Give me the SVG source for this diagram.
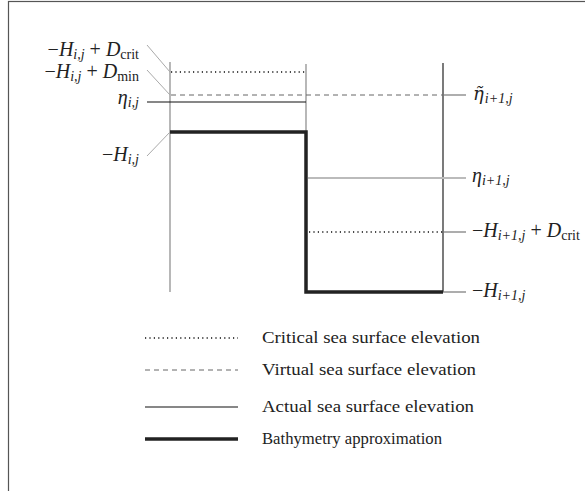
<svg xmlns="http://www.w3.org/2000/svg" width="585" height="491" viewBox="0 0 585 491">
<style>
text{font-family:"Liberation Serif","Times New Roman","DejaVu Serif",serif;font-size:17px;fill:#222}
.lbl{font-size:20px}
.m{font-style:italic}
.s{font-size:14px}
.lead{stroke:#aaa;stroke-width:1;fill:none}
.vg{stroke:#888;stroke-width:1.2;fill:none}
.dot{stroke:#111;stroke-width:1.5;stroke-dasharray:1.2 3.2;fill:none}
.dash{stroke:#666;stroke-width:1;stroke-dasharray:5 4;fill:none}
.sol{stroke:#111;stroke-width:1.2;fill:none}
.thick{stroke:#222;stroke-width:3.5;fill:none}
.lg{stroke:#bbb;stroke-width:1.8;fill:none}
.gr{stroke:#777;stroke-width:1.2;fill:none}
</style>
<rect x="8.5" y="1.5" width="600" height="520" fill="#fff" stroke="#555" stroke-width="1.2"/>
<g id="connectors">
<line class="vg" x1="170" y1="62" x2="170" y2="292"/>
<line class="vg" x1="306" y1="64" x2="306" y2="132"/>
<line x1="443" y1="63" x2="443" y2="292" stroke="#222" stroke-width="1.2"/>
<line class="dot" x1="171" y1="72" x2="306" y2="72"/>
<line class="dash" x1="171" y1="95" x2="443" y2="95"/>
<line class="gr" x1="443" y1="95" x2="466" y2="95"/>
<line class="sol" x1="147" y1="102" x2="306" y2="102"/>
<path class="thick" d="M170,132 H306 V292 H443"/>
<line class="lg" x1="308" y1="178" x2="466" y2="178"/>
<line class="dot" x1="309" y1="232" x2="443" y2="232"/>
<line class="gr" x1="443" y1="232" x2="466" y2="232"/>
<line class="gr" x1="443" y1="292" x2="466" y2="292"/>
<line class="lead" x1="147" y1="45" x2="170" y2="72"/>
<line class="lead" x1="147" y1="70" x2="170" y2="95"/>
<line class="lead" x1="147" y1="156" x2="170" y2="132"/>
</g>
<g id="label-left-crit"><text class="lbl" x="139" y="56" text-anchor="end">−<tspan class="m">H</tspan><tspan class="m s" dy="3">i,j</tspan><tspan dy="-3">  +  </tspan><tspan class="m">D</tspan><tspan class="s" dy="3">crit</tspan></text></g>
<g id="label-left-min"><text class="lbl" x="139" y="78" text-anchor="end">−<tspan class="m">H</tspan><tspan class="m s" dy="3">i,j</tspan><tspan dy="-3">  +  </tspan><tspan class="m">D</tspan><tspan class="s" dy="3">min</tspan></text></g>
<g id="label-eta-ij"><text class="lbl" x="139" y="104" text-anchor="end"><tspan class="m">η</tspan><tspan class="m s" dy="3">i,j</tspan></text></g>
<g id="label-H-ij"><text class="lbl" x="139" y="161" text-anchor="end">−<tspan class="m">H</tspan><tspan class="m s" dy="3">i,j</tspan></text></g>
<g id="label-eta-tilde"><text class="lbl" x="473" y="100"><tspan class="m" font-family="DejaVu Serif" font-size="18">η̃</tspan><tspan class="m s" dx="1" dy="3">i+1,j</tspan></text></g>
<g id="label-eta-i1"><text class="lbl" x="472" y="182"><tspan class="m">η</tspan><tspan class="m s" dy="3">i+1,j</tspan></text></g>
<g id="label-H-i1-crit"><text class="lbl" x="472" y="237">−<tspan class="m">H</tspan><tspan class="m s" dy="3">i+1,j</tspan><tspan dy="-3">  +  </tspan><tspan class="m">D</tspan><tspan class="s" dy="3">crit</tspan></text></g>
<g id="label-H-i1"><text class="lbl" x="472" y="297">−<tspan class="m">H</tspan><tspan class="m s" dy="3">i+1,j</tspan></text></g>
<g id="legend">
<line class="dot" x1="145" y1="338" x2="238" y2="338"/>
<text x="262" y="343" textLength="218" lengthAdjust="spacingAndGlyphs">Critical sea surface elevation</text>
<line class="dash" x1="145" y1="370" x2="238" y2="370"/>
<text x="262" y="375" textLength="214" lengthAdjust="spacingAndGlyphs">Virtual sea surface elevation</text>
<line class="sol" x1="145" y1="407" x2="238" y2="407"/>
<text x="262" y="412" textLength="212" lengthAdjust="spacingAndGlyphs">Actual sea surface elevation</text>
<line class="thick" x1="145" y1="439" x2="238" y2="439"/>
<text x="262" y="444" textLength="180" lengthAdjust="spacingAndGlyphs">Bathymetry approximation</text>
</g>
</svg>
